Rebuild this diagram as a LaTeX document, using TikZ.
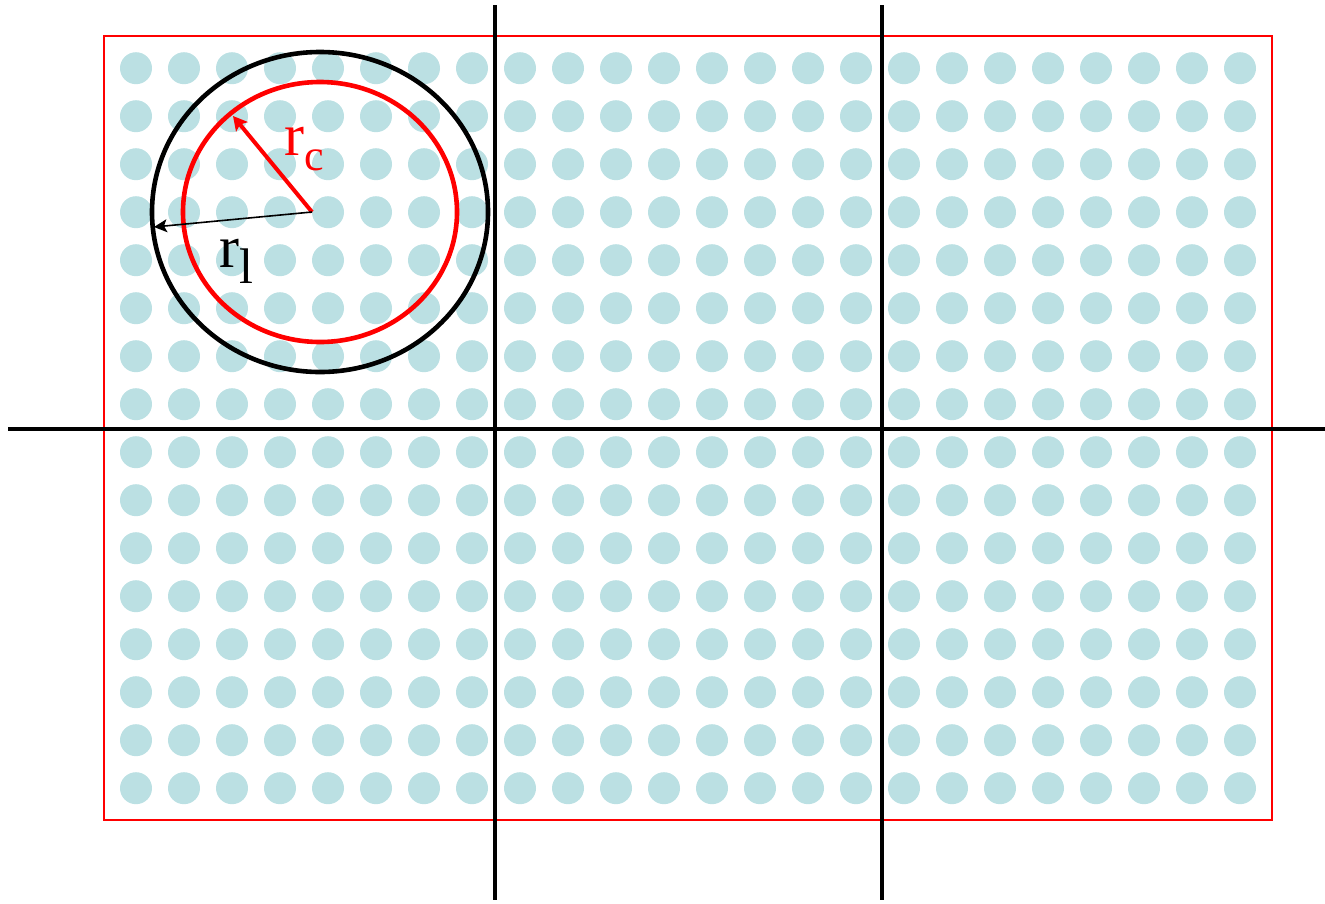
\documentclass[tikz,border=0pt]{standalone}
\usepackage{fontspec}
\setmainfont{Liberation Serif}
\newfontfamily\labfont{Liberation Serif}
\usetikzlibrary{arrows.meta}
\definecolor{dotc}{RGB}{187,224,227}
\definecolor{pured}{RGB}{255,0,0}
\tikzset{
  dot/.style={fill=dotc},
  axis/.style={draw=black, line width=4pt},
  frame/.style={draw=pured, line width=1.8pt},
  bigring/.style={draw=black, line width=4.6pt},
  smallring/.style={draw=pured, line width=4.6pt},
  rcarrow/.style={draw=pured, line width=4pt, -{Stealth[length=14pt,width=15pt,inset=3pt]}},
  rlarrow/.style={draw=black, line width=1.6pt, -{Stealth[length=13pt,width=13pt,inset=3pt]}},
  lab/.style={inner sep=0pt, anchor=base west, font=\labfont\fontsize{60}{60}\selectfont}
}
\begin{document}
\begin{tikzpicture}[x=1pt,y=-1pt]
\useasboundingbox (0,0) rectangle (1325,903);
% dots
\foreach \i in {0,...,23}{
  \foreach \j in {0,...,15}{
    \fill[dot] ({136+48*\i},{68.2+48*\j}) circle[radius=16pt];
  }
}
% frame
\draw[frame] (104,36) rectangle (1272,820);
% axes
\coordinate (v1t) at (495,5);
\coordinate (v1b) at (495,900);
\coordinate (v2t) at (882,5);
\coordinate (v2b) at (882,900);
\coordinate (hl) at (8,429);
\coordinate (hr) at (1325,429);
\draw[axis] (v1t) -- (v1b);
\draw[axis] (v2t) -- (v2b);
\draw[axis] (hl) -- (hr);
% rings
\coordinate (ctr) at (320,212);
\draw[bigring] (ctr) ellipse[x radius=168pt, y radius=160pt];
\draw[smallring] (ctr) ellipse[x radius=137pt, y radius=130pt];
% radii
\coordinate (o) at (312,212);
\coordinate (rctip) at (233,116);
\coordinate (rltip) at (154,227);
\draw[rcarrow] (o) -- (rctip);
\draw[rlarrow] (o) -- (rltip);
% labels
\node[lab, text=pured] (rc) at (284,155) {r\raisebox{-15pt}{\fontsize{44}{44}\selectfont c}};
\node[lab, text=black] (rl) at (219,267) {r\raisebox{-16pt}{\fontsize{50}{50}\selectfont l}};
\end{tikzpicture}
\end{document}
